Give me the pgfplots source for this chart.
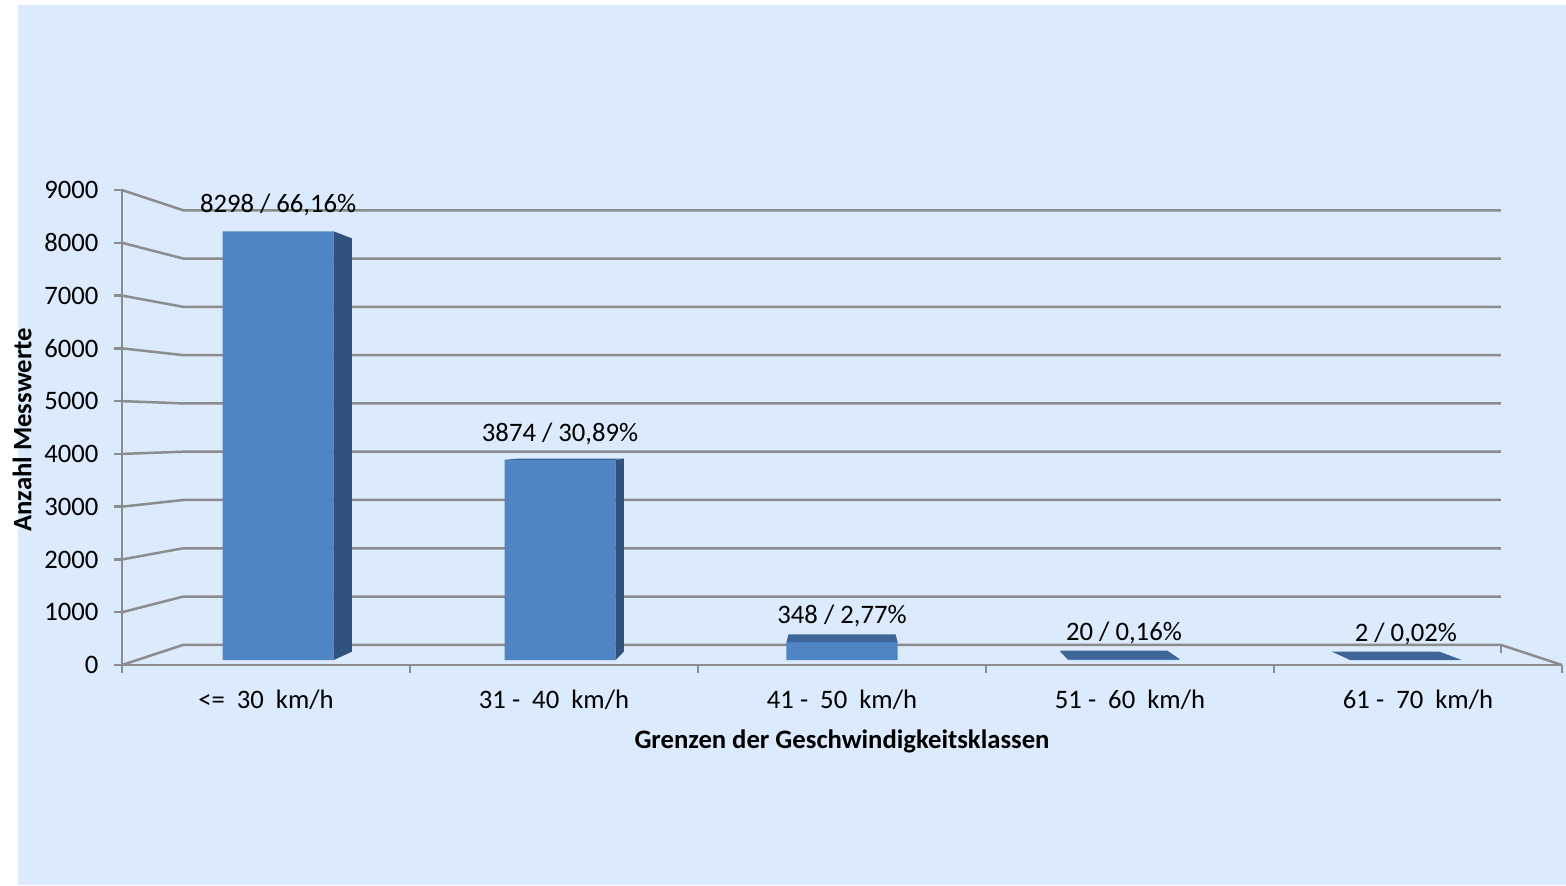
\documentclass[border=0pt]{standalone}
\usepackage{fontspec}
\setmainfont{Carlito}
\usepackage{pgfplots}
\pgfplotsset{compat=1.18}
\usetikzlibrary{calc}

\definecolor{bg}{HTML}{DBEAFC}
\definecolor{gridc}{HTML}{8C8C8C}
\definecolor{barfront}{HTML}{4F85C4}
\definecolor{barside}{HTML}{31527E}
\definecolor{bartop}{HTML}{3E6598}

% 3D faces of a bar, shrunk towards the vanishing point (vp)
\newcommand\sideface[2]{% x of the visible side edge, value
  \fill[barside] (axis cs:#1,0) -- (axis cs:#1,#2) -- ($(vp)!0.964!(axis cs:#1,#2)$) -- ($(vp)!0.964!(axis cs:#1,0)$) -- cycle;}
\newcommand\topface[3]{% left x, right x, value
  \fill[bartop] (axis cs:#1,#3) -- (axis cs:#2,#3) -- ($(vp)!0.964!(axis cs:#2,#3)$) -- ($(vp)!0.964!(axis cs:#1,#3)$) -- cycle;}

\begin{document}
\begin{tikzpicture}
\useasboundingbox (0,0) rectangle (469.8pt,265.5pt);
\fill[bg] (5.4pt,0) rectangle (469.8pt,264pt);

% front plane: axes, ticks, back wall grid
\begin{axis}[
  at={(36.6pt,66pt)}, anchor=south west,
  scale only axis, width=432pt, height=142.5pt,
  xmin=-0.5, xmax=4.5, ymin=0, ymax=9000,
  clip=false,
  axis x line*=bottom, axis y line*=left,
  axis line style={gridc, line width=0.75pt},
  tick style={gridc, line width=0.75pt},
  tick align=outside, major tick length=2.4pt,
  xtick={-0.5,0.5,1.5,2.5,3.5,4.5}, xticklabels={,,,,,},
  extra x ticks={0,1,2,3,4},
  extra x tick labels={{<=\ \ 30\ \ km/h},{31 -\ \ 40\ \ km/h},{41 -\ \ 50\ \ km/h},{51 -\ \ 60\ \ km/h},{61 -\ \ 70\ \ km/h}},
  extra x tick style={major tick length=0pt, xticklabel style={anchor=center, inner sep=0pt, yshift=-10.5pt}},
  ytick={0,1000,...,9000},
  yticklabel style={anchor=east, inner sep=0pt, xshift=-4.5pt},
  scaled y ticks=false,
  /pgf/number format/1000 sep={},
  /pgf/number format/assume math mode=true,
  tick label style={font=\fontsize{8}{9.6}\selectfont, text=black},
  xlabel={Grenzen der Geschwindigkeitsklassen},
  ylabel={Anzahl Messwerte},
  label style={font=\bfseries\fontsize{8}{9.6}\selectfont},
  xlabel style={at={(axis description cs:0.5,-0.16)}, anchor=center},
  ylabel style={at={(axis description cs:-0.0694,0.495)}, anchor=center},
]
\coordinate (vp) at (axis cs:2,4490);
\pgfplotsinvokeforeach{0,1000,...,9000}{
  \draw[gridc, line width=0.75pt] (axis cs:-0.5,#1) -- ($(vp)!0.915!(axis cs:-0.5,#1)$) -- ($(vp)!0.915!(axis cs:4.5,#1)$);
}
\coordinate (br) at ($(vp)!0.915!(axis cs:4.5,0)$);
\draw[gridc, line width=0.75pt] (br) -- (axis cs:4.5,0);
\draw[gridc, line width=0.75pt] (br) -- ([yshift=-2.4pt]br);
\end{axis}

% bar plane
\begin{axis}[
  at={(41.14pt,67.49pt)}, anchor=south west,
  scale only axis, width=422.93pt, height=139.51pt,
  xmin=-0.5, xmax=4.5, ymin=0, ymax=9000,
  hide axis, clip=false,
  nodes near coords, point meta=explicit symbolic,
  every node near coord/.append style={font=\fontsize{8}{9.6}\selectfont, text=black, anchor=center, yshift=7.8pt},
]
\addplot[ybar, bar width=0.394, fill=barfront, draw=none] coordinates {
  (0,8298) [8298 / 66,16\%]
  (1,3874) [3874 / 30,89\%]
  (2,348)  [348 / 2,77\%]
  (3,20)   [20 / 0,16\%]
  (4,2)    [2 / 0,02\%]
};
\coordinate (vp) at (axis cs:2,4490);
\sideface{0.197}{8298}
\sideface{1.197}{3874}
\topface{0.803}{1.197}{3874}
\topface{1.803}{2.197}{348}
\sideface{2.803}{20}
\topface{2.803}{3.197}{20}
\sideface{3.803}{2}
\topface{3.803}{4.197}{2}
\end{axis}
\end{tikzpicture}
\end{document}
